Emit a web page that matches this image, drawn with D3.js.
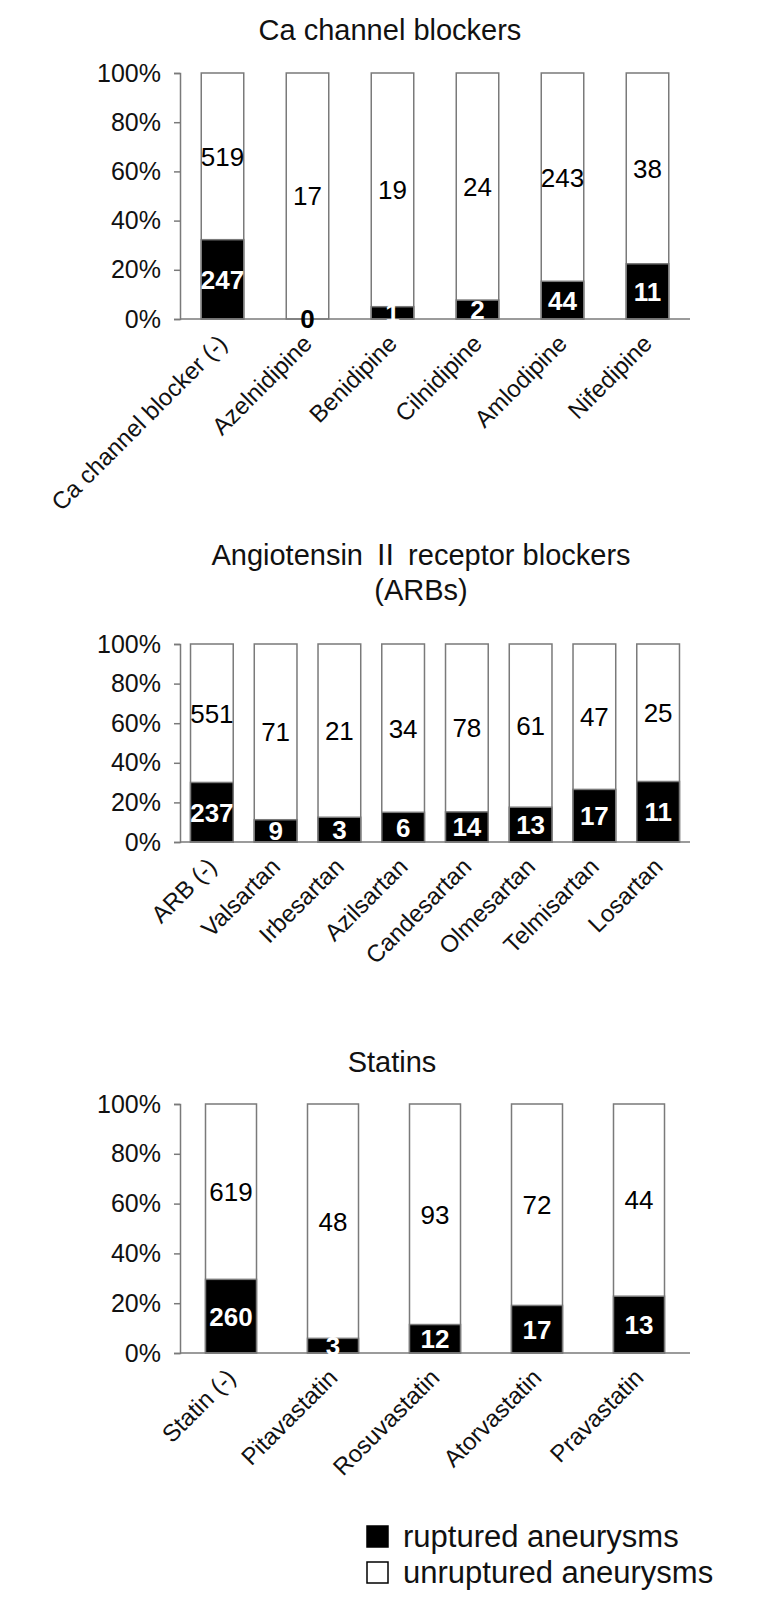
<!DOCTYPE html>
<html>
<head>
<meta charset="utf-8">
<script src="https://cdn.jsdelivr.net/npm/d3@7"></script>
<style>
  body { margin: 0; background: #fff; }
  text { font-family: "Liberation Sans", Arial, sans-serif; }
</style>
</head>
<body>
<div id="chart"></div>
<script>
// data (counts per drug)
const caCategories = ['Ca channel blocker (-)', 'Azelnidipine', 'Benidipine', 'Cilnidipine', 'Amlodipine', 'Nifedipine'];
const caRuptured = [247, 0, 1, 2, 44, 11];
const caUnruptured = [519, 17, 19, 24, 243, 38];

const arbCategories = ['ARB (-)', 'Valsartan', 'Irbesartan', 'Azilsartan', 'Candesartan', 'Olmesartan', 'Telmisartan', 'Losartan'];
const arbRuptured = [237, 9, 3, 6, 14, 13, 17, 11];
const arbUnruptured = [551, 71, 21, 34, 78, 61, 47, 25];

const statinCategories = ['Statin (-)', 'Pitavastatin', 'Rosuvastatin', 'Atorvastatin', 'Pravastatin'];
const statinRuptured = [260, 3, 12, 17, 13];
const statinUnruptured = [619, 48, 93, 72, 44];

const yTicks = [0, 0.2, 0.4, 0.6, 0.8, 1];
const legendLabels = ['ruptured aneurysms', 'unruptured aneurysms'];

const width = 763, height = 1599;
const gray = '#7a7a7a';

var svg = d3.select('#chart')
    .append('svg')
    .attr('width', width)
    .attr('height', height);

// one stacked 100% panel
function drawPanel(cats, rupt, unrupt, opt) {
    var rows = cats.map((c, i) => ({ cat: c, r: rupt[i], u: unrupt[i], frac: rupt[i] / (rupt[i] + unrupt[i]) }));

    var x = d3.scaleBand()
        .domain(cats)
        .range([180, 690])
        .paddingInner(opt.pad)
        .paddingOuter(opt.pad / 2);

    var y = d3.scaleLinear()
        .domain([0, 1])
        .range([opt.bottom, opt.top]);

    var g = svg.append('g');

    // title, the roman numeral goes in a CJK font (full width glyph, like the original)
    opt.title.forEach((line, i) => {
        var t = g.append('text')
            .attr('x', opt.titleX)
            .attr('y', opt.titleY + i * 35)
            .attr('text-anchor', 'middle')
            .attr('font-size', 29)
            .attr('fill', '#111');
        line.split(/(Ⅱ)/).forEach(part => {
            t.append('tspan')
                .style('font-family', part === 'Ⅱ' ? '"Noto Sans CJK JP", sans-serif' : '"Liberation Sans", Arial, sans-serif')
                .text(part);
        });
    });

    // y axis
    var yAxis = g.append('g')
        .attr('transform', `translate(180,0)`)
        .call(d3.axisLeft(y).tickValues(yTicks).tickFormat(d3.format('.0%')).tickSize(6).tickPadding(13));
    yAxis.select('.domain').attr('stroke', gray).attr('stroke-width', 1.5);
    yAxis.selectAll('.tick line').attr('stroke', gray).attr('stroke-width', 1.5);
    yAxis.selectAll('.tick text')
        .attr('font-size', 25)
        .attr('fill', '#111')
        .style('font-family', '"Liberation Sans", Arial, sans-serif');

    // white (unruptured) full bar
    g.selectAll('rect.unrupt')
        .data(rows)
        .join('rect')
        .attr('class', 'unrupt')
        .attr('x', d => x(d.cat))
        .attr('width', x.bandwidth())
        .attr('y', y(1))
        .attr('height', y(0) - y(1))
        .attr('fill', '#fff')
        .attr('stroke', gray)
        .attr('stroke-width', 1.5);

    // black (ruptured) part
    g.selectAll('rect.rupt')
        .data(rows)
        .join('rect')
        .attr('class', 'rupt')
        .attr('x', d => x(d.cat))
        .attr('width', x.bandwidth())
        .attr('y', d => y(d.frac))
        .attr('height', d => y(0) - y(d.frac))
        .attr('fill', '#000')
        .attr('stroke', gray)
        .attr('stroke-width', 1.5);

    // x axis line
    g.append('line')
        .attr('x1', 180).attr('x2', 690)
        .attr('y1', y(0)).attr('y2', y(0))
        .attr('stroke', gray)
        .attr('stroke-width', 1.5);

    // value labels
    g.selectAll('text.uval')
        .data(rows)
        .join('text')
        .attr('class', 'uval')
        .attr('x', d => x(d.cat) + x.bandwidth() / 2)
        .attr('y', d => y((1 + d.frac) / 2))
        .attr('dy', '0.36em')
        .attr('text-anchor', 'middle')
        .attr('font-size', 26)
        .attr('fill', '#000')
        .text(d => d.u);

    g.selectAll('text.rval')
        .data(rows)
        .join('text')
        .attr('class', 'rval')
        .attr('x', d => x(d.cat) + x.bandwidth() / 2)
        .attr('y', d => y(d.frac / 2))
        .attr('dy', '0.36em')
        .attr('text-anchor', 'middle')
        .attr('font-size', 26)
        .attr('font-weight', 'bold')
        .attr('fill', d => d.r === 0 ? '#000' : '#fff')
        .text(d => d.r);

    // rotated category labels
    g.selectAll('text.cat')
        .data(rows)
        .join('text')
        .attr('class', 'cat')
        .attr('transform', d => `translate(${x(d.cat) + x.bandwidth() / 2 + 6},${y(0) + 26}) rotate(-45)`)
        .attr('text-anchor', 'end')
        .attr('font-size', 24)
        .attr('fill', '#111')
        .text(d => d.cat);
}

drawPanel(caCategories, caRuptured, caUnruptured,
    { pad: 0.5, top: 73, bottom: 319, title: ['Ca channel blockers'], titleX: 390, titleY: 40 });

drawPanel(arbCategories, arbRuptured, arbUnruptured,
    { pad: 0.33, top: 644, bottom: 842, title: ['Angiotensin Ⅱ receptor blockers', '(ARBs)'], titleX: 421, titleY: 565 });

drawPanel(statinCategories, statinRuptured, statinUnruptured,
    { pad: 0.5, top: 1104, bottom: 1353, title: ['Statins'], titleX: 392, titleY: 1072 });

// legend
var legend = svg.append('g').attr('transform', 'translate(367,1526)');
legend.selectAll('rect')
    .data(legendLabels)
    .join('rect')
    .attr('x', 0)
    .attr('y', (d, i) => i * 36)
    .attr('width', 21)
    .attr('height', 21)
    .attr('fill', (d, i) => i === 0 ? '#000' : '#fff')
    .attr('stroke', '#000')
    .attr('stroke-width', 1.5);
legend.selectAll('text')
    .data(legendLabels)
    .join('text')
    .attr('x', 36)
    .attr('y', (d, i) => i * 36 + 21)
    .attr('font-size', 31)
    .attr('fill', '#111')
    .text(d => d);
</script>
</body>
</html>
